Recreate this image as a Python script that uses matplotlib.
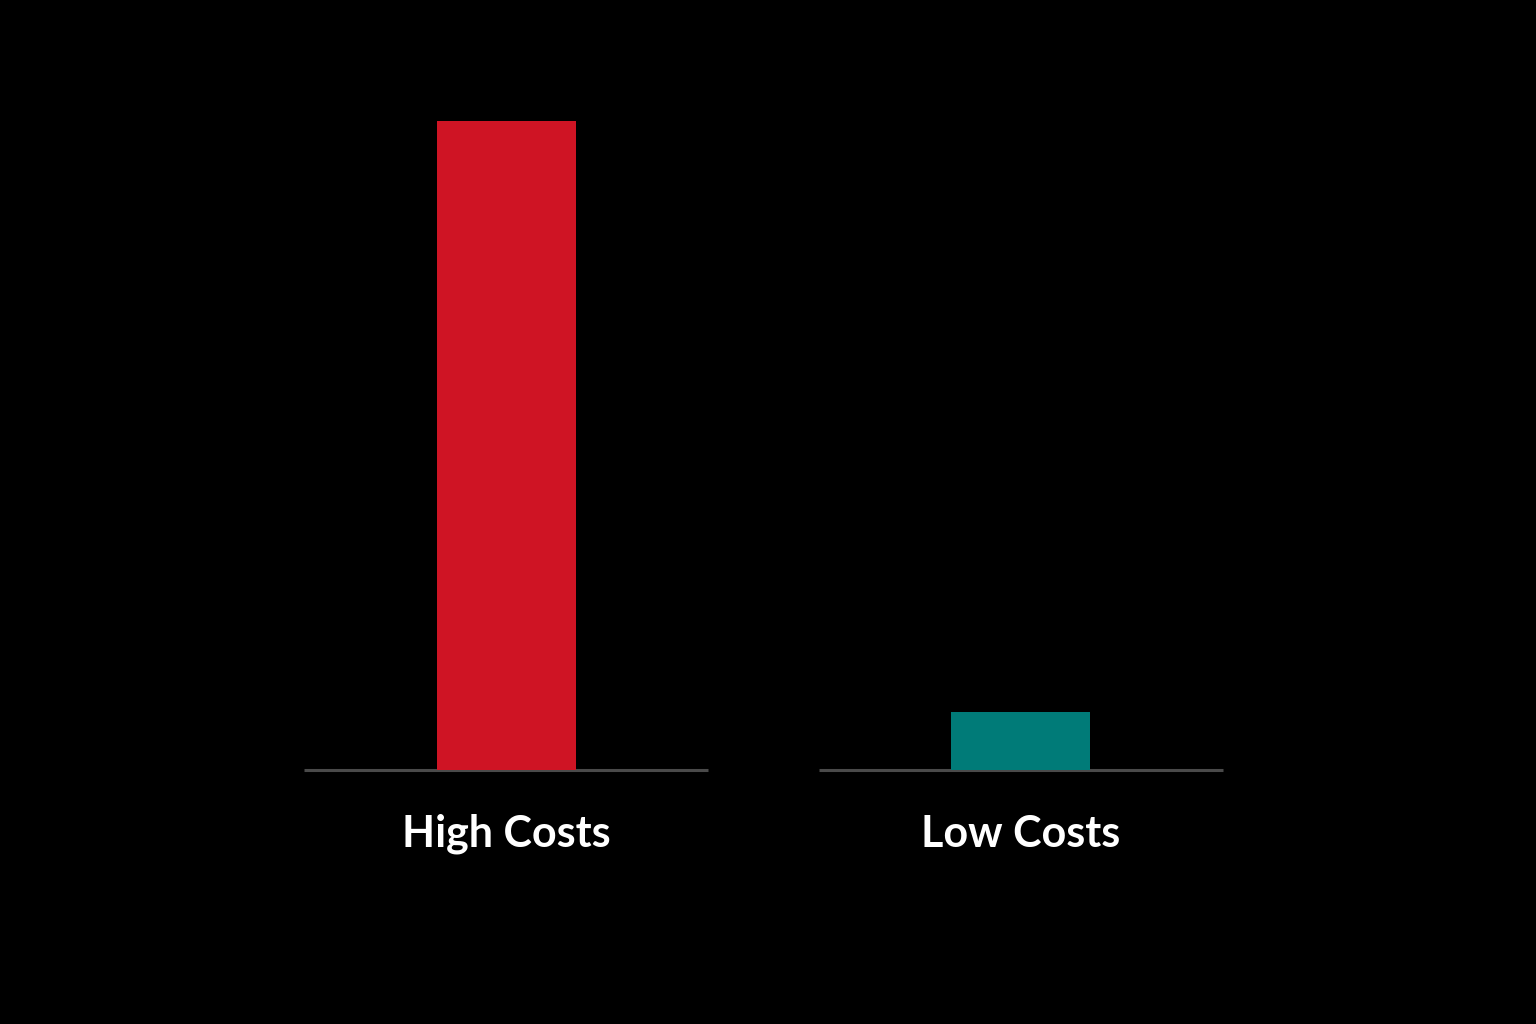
import matplotlib.pyplot as plt

# valeurs
categories = ["High Costs", "Low Costs"]
values = [100, 9]
colors = ["#cf1424", "#007b78"]

W, H = 1536, 1024
fig = plt.figure(figsize=(W / 100, H / 100), dpi=100, facecolor="black")

# axes placés en pixels : ligne de base à y=770, haut de la barre rouge à y=121
ax = fig.add_axes([304 / W, (H - 770) / H, 919 / W, 649 / H])
ax.set_facecolor("black")

pos = list(range(len(categories)))
ax.bar(pos, values, width=0.27, color=colors, zorder=2, clip_on=False)

# une ligne de base sous chaque barre
for p in pos:
    ax.hlines(0, p - 0.393, p + 0.393, color="#4a4a4a", lw=2.2, zorder=1, clip_on=False)

ax.set_xlim(-0.393, 1.393)
ax.set_ylim(0, 100)
ax.axis("off")

for p, lab in zip(pos, categories):
    ax.annotate(lab, (p, 0), xytext=(0, -46), textcoords="offset points",
                ha="center", va="center", color="white", fontsize=31,
                family="Lato", weight="bold")

fig.savefig("out.png", dpi=100, facecolor="black")
